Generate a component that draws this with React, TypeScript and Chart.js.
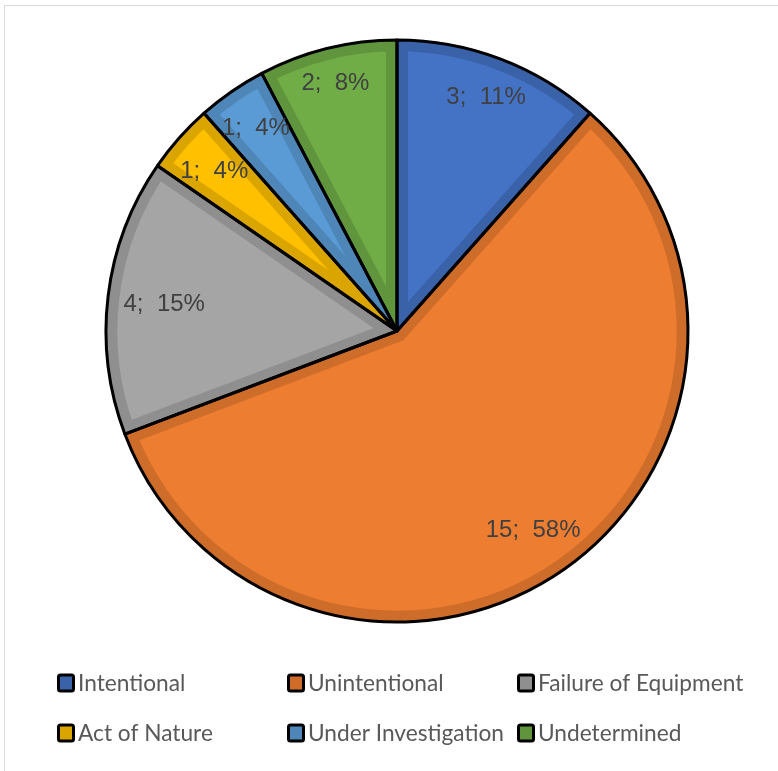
import React, { useEffect, useRef } from 'react';
import { Chart, registerables } from 'chart.js';

Chart.register(...registerables);

const categories = ['Intentional', 'Unintentional', 'Failure of Equipment', 'Act of Nature', 'Under Investigation', 'Undetermined'];
const counts = [3, 15, 4, 1, 1, 2];
const percentLabels = ['11%', '58%', '15%', '4%', '4%', '8%'];
const fillColors = ['#4472C4', '#ED7D31', '#A5A5A5', '#FFC000', '#5B9BD5', '#70AD47'];
const bandColors = ['#3A62A9', '#CE6C2A', '#8F8F8F', '#DBA500', '#4E86B8', '#61953D'];

const LEGEND_COLS = [57, 287, 517];
const LEGEND_ROWS = [683, 733];
const LEGEND_FONT = '22.7px Lato';
const LABEL_FONT = '24px "Liberation Sans"';

const framePlugin = {
  id: 'frame',
  beforeDraw(chart: any) {
    const ctx = chart.ctx;
    ctx.save();
    ctx.fillStyle = '#ffffff';
    ctx.fillRect(0, 0, chart.width, chart.height);
    ctx.strokeStyle = '#D9D9D9';
    ctx.lineWidth = 1;
    ctx.beginPath();
    ctx.moveTo(4.5, chart.height + 5);
    ctx.lineTo(4.5, 5.5);
    ctx.lineTo(chart.width + 5, 5.5);
    ctx.stroke();
    ctx.restore();
  },
};

const outlinePlugin = {
  id: 'outline',
  afterDatasetsDraw(chart: any) {
    const ctx = chart.ctx;
    const meta = chart.getDatasetMeta(0);
    ctx.save();
    ctx.strokeStyle = '#000000';
    ctx.lineWidth = 3;
    ctx.lineJoin = 'round';
    meta.data.forEach((arc: any) => {
      const { x, y, startAngle, endAngle, outerRadius } = arc.getProps(['x', 'y', 'startAngle', 'endAngle', 'outerRadius'], true);
      ctx.beginPath();
      ctx.moveTo(x, y);
      ctx.arc(x, y, outerRadius, startAngle, endAngle);
      ctx.closePath();
      ctx.stroke();
    });
    ctx.restore();
  },
};

const labelPlugin = {
  id: 'sliceLabels',
  afterDatasetsDraw(chart: any) {
    const ctx = chart.ctx;
    const meta = chart.getDatasetMeta(0);
    ctx.save();
    ctx.font = LABEL_FONT;
    ctx.fillStyle = '#404040';
    ctx.textAlign = 'center';
    ctx.textBaseline = 'alphabetic';
    meta.data.forEach((arc: any, i: number) => {
      const { x, y, startAngle, endAngle, outerRadius } = arc.getProps(['x', 'y', 'startAngle', 'endAngle', 'outerRadius'], true);
      const text = `${counts[i]};  ${percentLabels[i]}`;
      const mid = (startAngle + endAngle) / 2;
      const m = ctx.measureText(text);
      const w = m.width;
      const h = 18;
      const c = Math.cos(mid);
      const s = Math.sin(mid);
      const target = outerRadius - 15;
      const far = (d: number) => {
        const px = c * d;
        const py = s * d;
        let best = 0;
        for (const sx of [-1, 1]) {
          for (const sy of [-1, 1]) {
            const qx = px + (sx * w) / 2;
            const qy = py + (sy * h) / 2;
            best = Math.max(best, Math.hypot(qx, qy));
          }
        }
        return best;
      };
      let lo = 0;
      let hi = outerRadius;
      for (let k = 0; k < 40; k++) {
        const md = (lo + hi) / 2;
        if (far(md) > target) hi = md;
        else lo = md;
      }
      const cx = x + c * lo;
      const cy = y + s * lo;
      const asc = m.actualBoundingBoxAscent || 17;
      ctx.fillText(text, cx, cy + asc / 2);
    });
    ctx.restore();
  },
};

const legendPlugin = {
  id: 'gridLegend',
  afterDraw(chart: any) {
    const ctx = chart.ctx;
    const labels = chart.data.labels as string[];
    ctx.save();
    ctx.font = LEGEND_FONT;
    ctx.textBaseline = 'middle';
    ctx.textAlign = 'left';
    labels.forEach((label, i) => {
      const col = i % 3;
      const row = Math.floor(i / 3);
      const mx = LEGEND_COLS[col];
      const my = LEGEND_ROWS[row];
      ctx.fillStyle = bandColors[i];
      ctx.strokeStyle = '#000000';
      ctx.lineWidth = 3;
      ctx.lineJoin = 'round';
      ctx.beginPath();
      ctx.roundRect(mx + 1.5, my - 8, 15, 16, 2);
      ctx.fill();
      ctx.stroke();
      ctx.fillStyle = '#595959';
      ctx.fillText(label, mx + 21, my + 1);
    });
    ctx.restore();
  },
};

export default function App() {
  const canvasRef = useRef<HTMLCanvasElement | null>(null);

  useEffect(() => {
    document.body.style.margin = '0';
    const canvas = canvasRef.current;
    if (!canvas) return;
    const chart = new Chart(canvas, {
      type: 'pie',
      data: {
        labels: categories,
        datasets: [
          {
            data: counts,
            backgroundColor: fillColors,
            borderColor: bandColors,
            borderWidth: 11,
            borderAlign: 'inner',
            borderJoinStyle: 'miter',
          } as any,
        ],
      },
      options: {
        animation: false,
        responsive: false,
        maintainAspectRatio: false,
        devicePixelRatio: 1,
        layout: { padding: { left: 106, right: 90, top: 40, bottom: 149 } },
        plugins: {
          legend: { display: false },
          tooltip: { enabled: false },
        },
      },
      plugins: [framePlugin, outlinePlugin, labelPlugin, legendPlugin],
    });
    return () => chart.destroy();
  }, []);

  return (
    <div style={{ width: 778, height: 771 }}>
      <canvas ref={canvasRef} width={778} height={771} style={{ display: 'block', width: 778, height: 771 }} />
    </div>
  );
}
